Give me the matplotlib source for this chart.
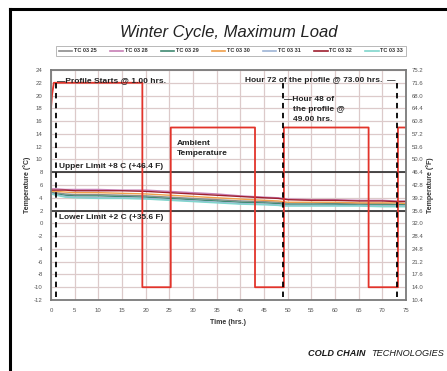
import matplotlib.pyplot as plt
from matplotlib.lines import Line2D

# ambient chamber profile (deg C)
amb_t = [0, 0.2, 0.6, 19.3, 19.3, 25.3, 25.3, 43.1, 43.1, 49.2, 49.2, 67.1, 67.1, 73.3, 73.3, 75]
amb_c = [18, 20, 22, 22, -10, -10, 15, 15, -10, -10, 15, 15, -10, -10, 15, 15]

# product thermocouples
tc_time = [0, 1, 3, 5, 10, 15, 20, 25, 30, 35, 40, 45, 48, 49, 50, 55, 60, 65, 70, 73, 75]
tc_names = ["TC 03 25", "TC 03 28", "TC 03 29", "TC 03 30", "TC 03 31", "TC 03 32", "TC 03 33"]
tc_colors = ["#8c8c8c", "#c77fb5", "#3f8a72", "#f0a04a", "#9db4d6", "#9e1f2f", "#7fd6cc"]
tc_0325 = [4.9, 4.8, 4.6, 4.5, 4.5, 4.4, 4.3, 4.1, 3.9, 3.7, 3.5, 3.4, 3.3, 3.2, 3.2, 3.2, 3.1, 3.1, 3.1, 3.0, 3.0]
tc_0328 = [5.4, 5.4, 5.3, 5.3, 5.3, 5.2, 5.2, 5.0, 4.8, 4.6, 4.3, 4.1, 4.0, 3.9, 3.8, 3.7, 3.7, 3.6, 3.6, 3.5, 3.5]
tc_0329 = [4.8, 4.6, 4.4, 4.3, 4.3, 4.2, 4.1, 3.9, 3.7, 3.5, 3.3, 3.2, 3.1, 3.0, 3.0, 3.0, 3.0, 2.9, 2.9, 2.9, 2.9]
tc_0330 = [5.0, 5.0, 4.9, 4.8, 4.8, 4.7, 4.6, 4.4, 4.2, 4.0, 3.8, 3.6, 3.5, 3.4, 3.3, 3.3, 3.3, 3.2, 3.2, 3.2, 3.1]
tc_0331 = [4.7, 4.5, 4.2, 4.1, 4.0, 4.0, 3.9, 3.7, 3.5, 3.3, 3.1, 3.0, 2.9, 2.8, 2.8, 2.8, 2.8, 2.8, 2.7, 2.7, 2.7]
tc_0332 = [5.2, 5.2, 5.2, 5.1, 5.1, 5.1, 5.0, 4.8, 4.6, 4.4, 4.2, 4.0, 3.9, 3.8, 3.7, 3.6, 3.6, 3.5, 3.5, 3.4, 3.4]
tc_0333 = [4.6, 4.4, 4.1, 4.0, 3.9, 3.9, 3.8, 3.6, 3.4, 3.2, 3.0, 2.9, 2.8, 2.7, 2.7, 2.7, 2.7, 2.7, 2.6, 2.6, 2.6]
tc_values = [tc_0325, tc_0328, tc_0329, tc_0330, tc_0331, tc_0332, tc_0333]

upper_limit = 8
lower_limit = 2
markers_hr = [1, 49, 73]

x_ticks = list(range(0, 76, 5))
y_ticks = list(range(-12, 25, 2))
f_labels = ["%.1f" % (c * 1.8 + 32) for c in y_ticks]

plt.rcParams["font.family"] = ["Liberation Sans", "DejaVu Sans"]
plt.rcParams["axes.unicode_minus"] = False

fig = plt.figure(figsize=(4.47, 3.71), dpi=100)
ax = fig.add_axes([51 / 447, 1 - 300 / 371, 355 / 447, 230 / 371])

ax.set_xlim(0, 75)
ax.set_ylim(-12, 24)
ax.set_xticks(x_ticks)
ax.set_yticks(y_ticks)
ax.grid(True, color="#dccaca", linewidth=0.9)
ax.set_axisbelow(True)
ax.tick_params(length=0, labelsize=4.3, labelcolor="#555555", pad=6)
for s in ax.spines.values():
    s.set_color("#7a7a7a")
    s.set_linewidth(1.3)

# product temperatures
for vals, col in zip(tc_values, tc_colors):
    ax.plot(tc_time, vals, color=col, linewidth=1.0)

# limits
ax.axhline(upper_limit, color="#2b2b2b", linewidth=1.2)
ax.axhline(lower_limit, color="#2b2b2b", linewidth=1.2)

# ambient
ax.plot(amb_t, amb_c, color="#e2342b", linewidth=1.3)

# profile markers
for h in markers_hr:
    ax.plot([h, h], [-11.6, 22.5], color="black", linewidth=1.3, linestyle=(0, (3, 2.5)))

bold = dict(fontsize=6, fontweight="bold", color="#222222", va="center")
ax.text(1.2, 22.4, "\u2014Profile Starts @ 1.00 hrs.", **bold)
ax.text(72.8, 22.4, "Hour 72 of the profile @ 73.00 hrs.  \u2014", ha="right", **bold)
ax.text(49.2, 19.4, "\u2014Hour 48 of", **bold)
ax.text(51.2, 17.8, "the profile @", **bold)
ax.text(51.2, 16.2, "49.00 hrs.", **bold)
ax.text(26.6, 12.5, "Ambient", **bold)
ax.text(26.6, 10.9, "Temperature", **bold)
ax.text(1.6, 8.9, "Upper Limit +8 C (+46.4 F)", **bold)
ax.text(1.6, 0.9, "Lower Limit +2 C (+35.6 F)", **bold)

ax.set_xlabel("Time (hrs.)", fontsize=5, fontweight="bold", color="#333333", labelpad=4)
ax.set_ylabel("Temperature (\u00b0C)", fontsize=5, fontweight="bold", color="#333333", labelpad=2)

ax2 = ax.twinx()
ax2.set_ylim(-12, 24)
ax2.set_yticks(y_ticks)
ax2.set_yticklabels(f_labels)
ax2.tick_params(length=0, labelsize=4.3, labelcolor="#555555", pad=4)
for s in ax2.spines.values():
    s.set_visible(False)
ax2.set_ylabel("Temperature (\u00b0F)", fontsize=5, fontweight="bold", color="#333333", labelpad=2)

fig.text(229 / 447, 1 - 33 / 371, "Winter Cycle, Maximum Load", ha="center", va="center",
         fontsize=12, fontstyle="italic", color="#222222")

handles = [Line2D([], [], color=c, linewidth=1.2) for c in tc_colors]
leg = fig.legend(handles, tc_names, loc="center", bbox_to_anchor=(231 / 447, 1 - 51 / 371),
                 ncol=7, fontsize=4, frameon=True, fancybox=False, handlelength=2.4,
                 handletextpad=0.3, columnspacing=2.4, borderpad=0.5)
leg.get_frame().set_edgecolor("#999999")
leg.get_frame().set_linewidth(0.6)
for t in leg.get_texts():
    t.set_fontweight("bold")
    t.set_color("#333333")

# outer frame
fig.add_artist(Line2D([10 / 447, 1.0], [1 - 9 / 371, 1 - 9 / 371], color="black", linewidth=2.2))
fig.add_artist(Line2D([10 / 447, 10 / 447], [0, 1 - 9 / 371], color="black", linewidth=2.2))

fig.text(366 / 447, 1 - 353 / 371, "COLD CHAIN", ha="right", va="center", fontsize=6.6,
         fontstyle="italic", fontweight="bold", color="#1a1a1a")
fig.text(371 / 447, 1 - 353 / 371, "TECHNOLOGIES", ha="left", va="center", fontsize=6.6,
         fontstyle="italic", color="#1a1a1a")

fig.savefig("out.png", dpi=100)
